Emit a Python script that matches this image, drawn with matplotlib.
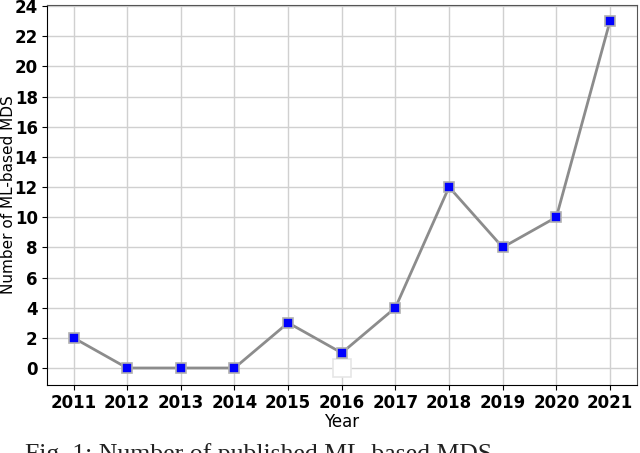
import matplotlib.pyplot as plt

years = [2011, 2012, 2013, 2014, 2015, 2016, 2017, 2018, 2019, 2020, 2021]
counts = [2, 0, 0, 0, 3, 1, 4, 12, 8, 10, 23]
ghost_x = [2016]
ghost_y = [0]
yticks = list(range(0, 25, 2))

fig = plt.figure(figsize=(6.4, 4.53), dpi=100)
ax = fig.add_axes([0.073, 0.150, 0.922, 0.839])

ax.plot(years, counts, color='#8c8c8c', linewidth=2, marker='s', markersize=7.5,
        markerfacecolor='#0000ff', markeredgecolor='#b0b0b0', markeredgewidth=1.2, zorder=3)
ax.plot(ghost_x, ghost_y, linestyle='none', marker='s', markersize=13,
        markerfacecolor='white', markeredgecolor='#e6e6e6', markeredgewidth=1.2, zorder=2)

ax.set_xlim(2010.5, 2021.5)
ax.set_ylim(-1.13, 24.07)
ax.set_xticks(years)
ax.set_yticks(yticks)
ax.tick_params(labelsize=12, pad=3)
for lbl in ax.get_xticklabels() + ax.get_yticklabels():
    lbl.set_fontweight('bold')
ax.grid(True, color='#d0d0d0', linewidth=1)
ax.set_axisbelow(True)
for s in ['top', 'right']:
    ax.spines[s].set_color('#555555')
ax.set_xlabel('Year', fontsize=12, labelpad=1)
ax.set_ylabel('Number of ML-based MDS', fontsize=11)
ax.yaxis.set_label_coords(-0.052, 0.5)

fig.text(0.039, 0.022, 'Fig. 1: Number of published ML-based MDS', family='Liberation Serif',
         fontsize=18.5, va='top', color='#222222')

fig.savefig('out.png', dpi=100)
